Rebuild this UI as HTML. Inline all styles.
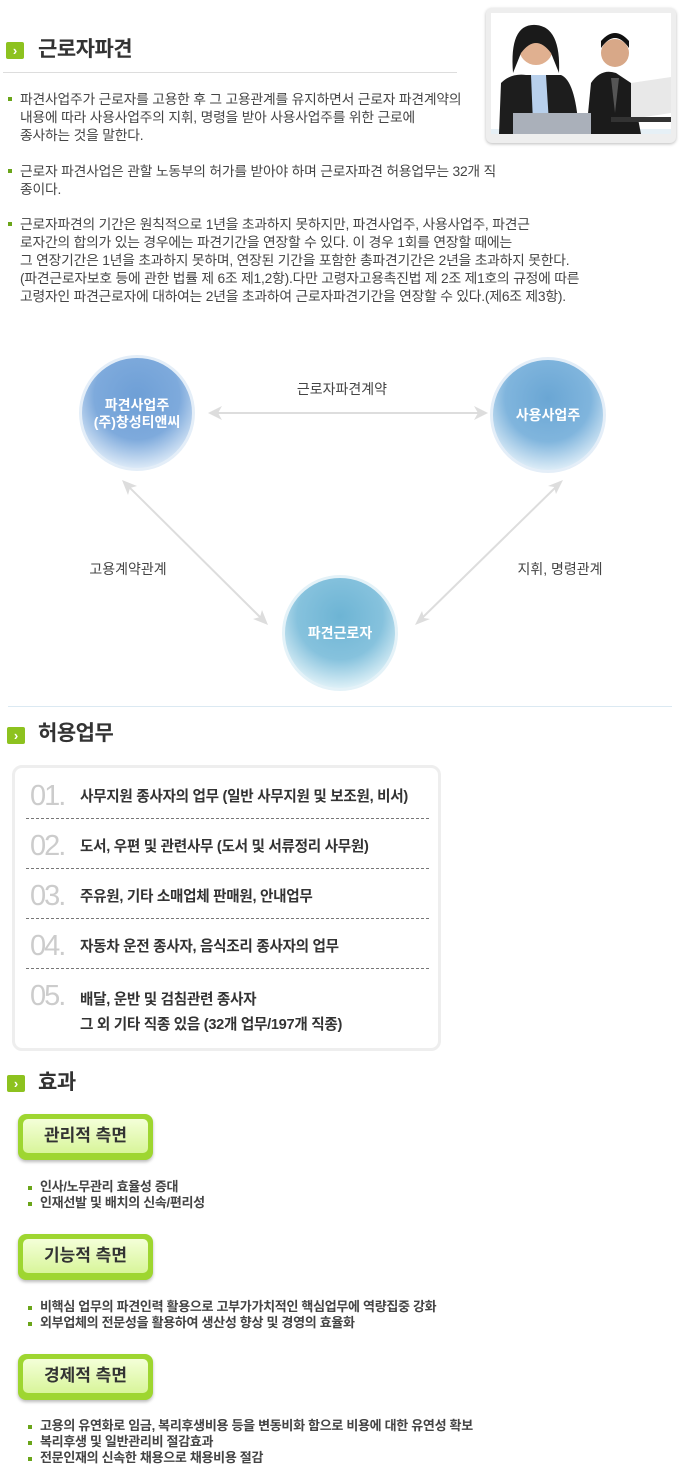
<!DOCTYPE html>
<html><head><meta charset="utf-8"><style>
*{margin:0;padding:0;box-sizing:border-box}
body{width:689px;height:1466px;background:#fff;position:relative;overflow:hidden;font-family:"Liberation Sans","Noto Sans CJK KR",sans-serif;color:#444}
.a{position:absolute;white-space:nowrap}
.ic{position:absolute;width:18px;height:17px;background:#8dc21f;border-radius:2px;color:#fff;font-size:13px;font-weight:bold;line-height:17px;text-align:center}
.h{position:absolute;font-size:21px;color:#333;line-height:24px;font-weight:bold;letter-spacing:-0.5px}
.t{position:absolute;font-size:13.8px;color:#444;line-height:18px;white-space:nowrap;letter-spacing:-0.2px}
.b{position:absolute;width:4px;height:4px;background:#6aa51a}
.num{position:absolute;font-size:29px;color:#ccc;line-height:28px;letter-spacing:-2px}
.row{position:absolute;font-size:14.6px;color:#333;line-height:18px;white-space:nowrap;font-weight:bold;letter-spacing:-0.3px}
.dash{position:absolute;left:26px;width:403px;border-top:1px dashed #777}
.btn{position:absolute;left:18px;width:135px;height:46px;border-radius:8px;background:#9ed630;box-shadow:0 2px 3px #bbb}
.btn div{position:absolute;left:5px;top:5px;right:5px;bottom:7px;border-radius:5px;background:linear-gradient(#f4ffd8,#d8f59a);font-size:17px;color:#333;text-align:center;line-height:34px;font-weight:bold}
.t2{position:absolute;font-size:13px;color:#444;line-height:16px;white-space:nowrap;font-weight:bold;letter-spacing:-0.3px}
</style></head><body>

<div class="ic" style="left:6px;top:42px">›</div>
<div class="h" style="left:38px;top:38px">근로자파견</div>
<div class="a" style="left:3px;top:72px;width:454px;border-top:1px solid #ddd"></div>

<div class="a" style="left:486px;top:8px;width:190px;height:135px;background:#eee;border-radius:6px;box-shadow:0 1px 3px #bbb"></div>
<svg class="a" style="left:491px;top:13px" width="180" height="121">
<rect width="180" height="121" fill="#fff"/>
<rect y="116" width="180" height="5" fill="#e6f0f6"/>
<path d="M95 121 L100 70 Q110 55 125 60 L140 70 L150 121Z" fill="#1b1b1b"/>
<circle cx="124" cy="40" r="14" fill="#d8a888"/>
<path d="M110 35 Q124 15 138 35 L138 28 Q124 12 110 28Z" fill="#111"/>
<path d="M120 65 L124 100 L128 65Z" fill="#555"/>
<path d="M140 70 L180 64 L180 100 L140 106Z" fill="#e8e8e8"/>
<rect x="120" y="104" width="60" height="5" fill="#333"/>
<path d="M8 121 L10 70 Q20 60 35 62 L70 62 Q85 68 88 121Z" fill="#1d1d1d"/>
<path d="M40 62 L55 62 L58 110 L42 110Z" fill="#b8d0ec"/>
<circle cx="45" cy="35" r="17" fill="#e0b090"/>
<path d="M22 60 Q18 10 45 12 Q70 14 68 60 L60 40 Q45 20 30 40Z" fill="#1a1a1a"/>
<rect x="22" y="100" width="78" height="21" fill="#aab0ba"/>
</svg>

<div class="b" style="left:8px;top:97px"></div>
<div class="t" style="left:20px;top:91px">파견사업주가 근로자를 고용한 후 그 고용관계를 유지하면서 근로자 파견계약의<br>내용에 따라 사용사업주의 지휘, 명령을 받아 사용사업주를 위한 근로에<br>종사하는 것을 말한다.</div>
<div class="b" style="left:8px;top:169px"></div>
<div class="t" style="left:20px;top:163px">근로자 파견사업은 관할 노동부의 허가를 받아야 하며 근로자파견 허용업무는 32개 직<br>종이다.</div>
<div class="b" style="left:8px;top:222px"></div>
<div class="t" style="left:20px;top:216px">근로자파견의 기간은 원칙적으로 1년을 초과하지 못하지만, 파견사업주, 사용사업주, 파견근<br>로자간의 합의가 있는 경우에는 파견기간을 연장할 수 있다. 이 경우 1회를 연장할 때에는<br>그 연장기간은 1년을 초과하지 못하며, 연장된 기간을 포함한 총파견기간은 2년을 초과하지 못한다.<br>(파견근로자보호 등에 관한 법률 제 6조 제1,2항).다만 고령자고용촉진법 제 2조 제1호의 규정에 따른<br>고령자인 파견근로자에 대하여는 2년을 초과하여 근로자파견기간을 연장할 수 있다.(제6조 제3항).</div>

<svg class="a" style="left:0;top:340px" width="689" height="370">
<defs>
<radialGradient id="g1" cx="50%" cy="35%" r="65%"><stop offset="0" stop-color="#6e9fd6"/><stop offset="0.6" stop-color="#7eaadc"/><stop offset="1" stop-color="#dbe9f7"/></radialGradient>
<radialGradient id="g2" cx="50%" cy="35%" r="65%"><stop offset="0" stop-color="#6aa6d4"/><stop offset="0.6" stop-color="#80b5dd"/><stop offset="1" stop-color="#dcecf7"/></radialGradient>
<radialGradient id="g3" cx="50%" cy="35%" r="65%"><stop offset="0" stop-color="#6db4d4"/><stop offset="0.6" stop-color="#86c2dd"/><stop offset="1" stop-color="#ddf0f7"/></radialGradient>
</defs>
<g stroke="#ddd" stroke-width="2" fill="none">
<line x1="212" y1="73" x2="484" y2="73"/>
<line x1="125" y1="143" x2="265" y2="282"/>
<line x1="560" y1="143" x2="418" y2="282"/>
</g>
<g fill="#ddd">
<path d="M208 73 L222 66 L218 73 L222 80Z"/><path d="M488 73 L474 66 L478 73 L474 80Z"/>
<path d="M122 140 L137 146 L130 148 L128 155Z"/><path d="M268 285 L253 279 L260 277 L262 270Z"/>
<path d="M563 140 L556 154 L554 147 L548 146Z"/><path d="M415 285 L422 271 L424 278 L430 279Z"/>
</g>
<circle cx="137" cy="73" r="58" fill="#e4eef8"/><circle cx="137" cy="73" r="55" fill="url(#g1)"/>
<circle cx="548" cy="75" r="58" fill="#e4eef8"/><circle cx="548" cy="75" r="55" fill="url(#g2)"/>
<circle cx="340" cy="293" r="58" fill="#e4f2f8"/><circle cx="340" cy="293" r="55" fill="url(#g3)"/>
<g font-family="Liberation Sans,Noto Sans CJK KR,sans-serif" font-size="14" font-weight="bold" fill="#fff" text-anchor="middle">
<text x="137" y="70">파견사업주</text><text x="137" y="87">(주)창성티앤씨</text>
<text x="548" y="80">사용사업주</text><text x="340" y="298">파견근로자</text>
</g>
<g font-family="Liberation Sans,Noto Sans CJK KR,sans-serif" font-size="14" fill="#444" text-anchor="middle">
<text x="342" y="54">근로자파견계약</text><text x="128" y="234">고용계약관계</text><text x="560" y="234">지휘, 명령관계</text>
</g>
</svg>
<div class="a" style="left:8px;top:706px;width:664px;border-top:1px solid #dbe9f2"></div>

<div class="ic" style="left:7px;top:727px">›</div>
<div class="h" style="left:38px;top:722px">허용업무</div>
<div class="a" style="left:12px;top:765px;width:429px;height:286px;border:3px solid #eee;border-radius:10px"></div>
<div class="num" style="left:30px;top:782px">01.</div><div class="row" style="left:80px;top:788px">사무지원 종사자의 업무 (일반 사무지원 및 보조원, 비서)</div>
<div class="dash" style="top:818px"></div>
<div class="num" style="left:30px;top:832px">02.</div><div class="row" style="left:80px;top:838px">도서, 우편 및 관련사무 (도서 및 서류정리 사무원)</div>
<div class="dash" style="top:868px"></div>
<div class="num" style="left:30px;top:882px">03.</div><div class="row" style="left:80px;top:888px">주유원, 기타 소매업체 판매원, 안내업무</div>
<div class="dash" style="top:918px"></div>
<div class="num" style="left:30px;top:932px">04.</div><div class="row" style="left:80px;top:938px">자동차 운전 종사자, 음식조리 종사자의 업무</div>
<div class="dash" style="top:968px"></div>
<div class="num" style="left:30px;top:982px">05.</div><div class="row" style="left:80px;top:988px;line-height:25px">배달, 운반 및 검침관련 종사자<br>그 외 기타 직종 있음 (32개 업무/197개 직종)</div>

<div class="ic" style="left:7px;top:1075px">›</div>
<div class="h" style="left:38px;top:1071px">효과</div>

<div class="btn" style="top:1114px"><div>관리적 측면</div></div>
<div class="b" style="left:28px;top:1186px"></div><div class="b" style="left:28px;top:1202px"></div>
<div class="t2" style="left:40px;top:1179px">인사/노무관리 효율성 증대<br>인재선발 및 배치의 신속/편리성</div>

<div class="btn" style="top:1234px"><div>기능적 측면</div></div>
<div class="b" style="left:28px;top:1306px"></div><div class="b" style="left:28px;top:1322px"></div>
<div class="t2" style="left:40px;top:1299px">비핵심 업무의 파견인력 활용으로 고부가가치적인 핵심업무에 역량집중 강화<br>외부업체의 전문성을 활용하여 생산성 향상 및 경영의 효율화</div>

<div class="btn" style="top:1354px"><div>경제적 측면</div></div>
<div class="b" style="left:28px;top:1425px"></div><div class="b" style="left:28px;top:1441px"></div><div class="b" style="left:28px;top:1457px"></div>
<div class="t2" style="left:40px;top:1418px">고용의 유연화로 임금, 복리후생비용 등을 변동비화 함으로 비용에 대한 유연성 확보<br>복리후생 및 일반관리비 절감효과<br>전문인재의 신속한 채용으로 채용비용 절감</div>
</body></html>
